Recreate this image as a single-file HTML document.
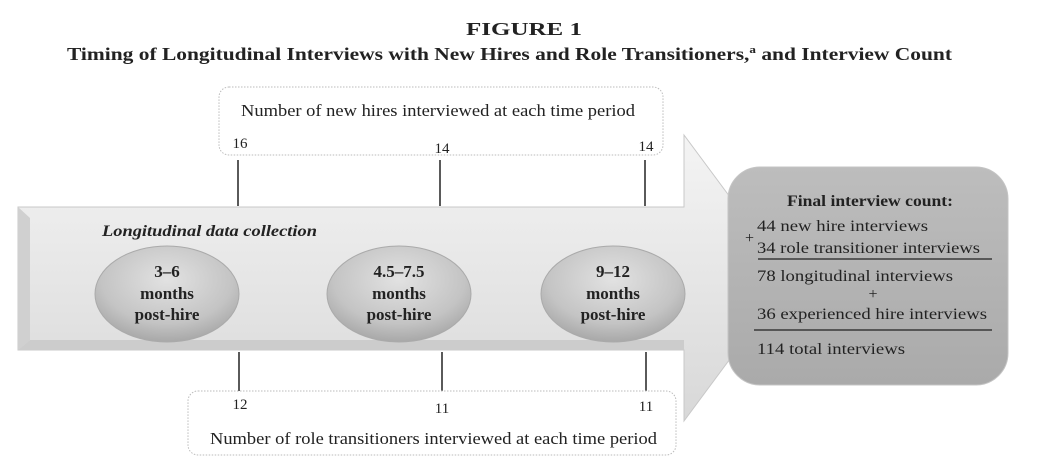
<!DOCTYPE html>
<html><head><meta charset="utf-8"><style>
html,body{margin:0;padding:0;background:#fff;}
body{width:1048px;height:461px;overflow:hidden;}
svg text{font-family:"Liberation Serif",serif;fill:#222;}
</style></head><body>
<svg width="1048" height="461" viewBox="0 0 1048 461" xmlns="http://www.w3.org/2000/svg">
<defs>
<linearGradient id="body" x1="0" y1="0" x2="0" y2="1">
<stop offset="0" stop-color="#f4f4f4"/><stop offset="0.5" stop-color="#e6e6e6"/><stop offset="1" stop-color="#d8d8d8"/></linearGradient>
<radialGradient id="ov" cx="0.5" cy="0.35" r="0.65">
<stop offset="0" stop-color="#e2e2e2"/><stop offset="0.7" stop-color="#c4c4c4"/><stop offset="1" stop-color="#a8a8a8"/></radialGradient>
<linearGradient id="fb" x1="0" y1="0" x2="0" y2="1">
<stop offset="0" stop-color="#bdbdbd"/><stop offset="1" stop-color="#aaaaaa"/></linearGradient>
</defs>
<text x="466" y="35" font-size="18" font-weight="bold" textLength="116" lengthAdjust="spacingAndGlyphs">FIGURE 1</text>
<text x="67" y="60" font-size="18" font-weight="bold" textLength="885" lengthAdjust="spacingAndGlyphs">Timing of Longitudinal Interviews with New Hires and Role Transitioners,<tspan font-size="11" dy="-7">a</tspan><tspan dy="7"> and Interview Count</tspan></text>

<polygon points="18,207 684,207 684,135 790,278 684,421 684,350 18,350" fill="url(#body)" stroke="#c8c8c8" stroke-width="1"/>
<polygon points="18,207 30,218 30,340 18,350" fill="#d0d0d0"/>
<polygon points="18,350 30,340 684,340 684,350" fill="#cccccc"/>

<rect x="219" y="87" width="444" height="68" rx="10" fill="#fff" stroke="#bbb" stroke-dasharray="1.5,1.5"/>
<text x="241" y="116" font-size="17" textLength="394" lengthAdjust="spacingAndGlyphs">Number of new hires interviewed at each time period</text>
<text x="240" y="148" text-anchor="middle" font-size="15">16</text>
<text x="442" y="153" text-anchor="middle" font-size="15">14</text>
<text x="646" y="151" text-anchor="middle" font-size="15">14</text>
<g stroke="#222" stroke-width="1.5">
<line x1="238" y1="160" x2="238" y2="206"/><line x1="440" y1="160" x2="440" y2="206"/><line x1="645" y1="160" x2="645" y2="206"/>
<line x1="239" y1="352" x2="239" y2="391"/><line x1="442" y1="352" x2="442" y2="391"/><line x1="646" y1="352" x2="646" y2="391"/>
</g>

<rect x="188" y="391" width="488" height="64" rx="10" fill="#fff" stroke="#bbb" stroke-dasharray="1.5,1.5"/>
<text x="240" y="409" text-anchor="middle" font-size="15">12</text>
<text x="442" y="413" text-anchor="middle" font-size="15">11</text>
<text x="646" y="411" text-anchor="middle" font-size="15">11</text>
<text x="210" y="444" font-size="17" textLength="447" lengthAdjust="spacingAndGlyphs">Number of role transitioners interviewed at each time period</text>

<text x="102" y="236" font-size="16" font-weight="bold" font-style="italic" textLength="215" lengthAdjust="spacingAndGlyphs">Longitudinal data collection</text>

<ellipse cx="167" cy="294" rx="72" ry="48" fill="url(#ov)" stroke="#aaa"/>
<ellipse cx="399" cy="294" rx="72" ry="48" fill="url(#ov)" stroke="#aaa"/>
<ellipse cx="613" cy="294" rx="72" ry="48" fill="url(#ov)" stroke="#aaa"/>
<g font-size="17" font-weight="bold" text-anchor="middle">
<text x="167" y="277">3–6</text><text x="167" y="299">months</text><text x="167" y="320">post-hire</text>
<text x="399" y="277">4.5–7.5</text><text x="399" y="299">months</text><text x="399" y="320">post-hire</text>
<text x="613" y="277">9–12</text><text x="613" y="299">months</text><text x="613" y="320">post-hire</text>
</g>

<rect x="728" y="167" width="280" height="218" rx="32" fill="url(#fb)" stroke="#c4c4c4"/>
<g font-size="16">
<text x="787" y="206" font-weight="bold" textLength="166" lengthAdjust="spacingAndGlyphs">Final interview count:</text>
<text x="757" y="231" textLength="171" lengthAdjust="spacingAndGlyphs">44 new hire interviews</text>
<text x="745" y="243">+</text>
<text x="757" y="253" textLength="223" lengthAdjust="spacingAndGlyphs">34 role transitioner interviews</text>
<text x="757" y="281" textLength="196" lengthAdjust="spacingAndGlyphs">78 longitudinal interviews</text>
<text x="873" y="299" text-anchor="middle">+</text>
<text x="757" y="319" textLength="230" lengthAdjust="spacingAndGlyphs">36 experienced hire interviews</text>
<text x="757" y="354" textLength="148" lengthAdjust="spacingAndGlyphs">114 total interviews</text>
</g>
<line x1="758" y1="259" x2="992" y2="259" stroke="#222" stroke-width="1.3"/>
<line x1="754" y1="330" x2="992" y2="330" stroke="#222" stroke-width="1.3"/>
</svg>
</body></html>
